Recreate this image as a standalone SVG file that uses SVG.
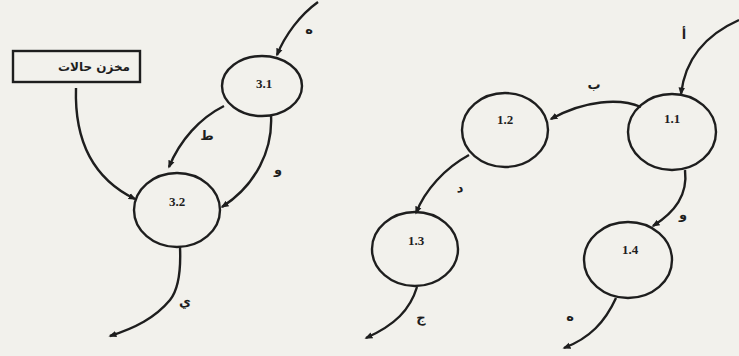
<svg xmlns="http://www.w3.org/2000/svg" width="739" height="356" viewBox="0 0 739 356">
<defs>
<marker id="ah" viewBox="0 0 10 10" refX="8" refY="5" markerWidth="8" markerHeight="8" markerUnits="userSpaceOnUse" orient="auto">
<path d="M0,1 L10,5 L0,9 Z" fill="#1e1e1e"/>
</marker>
<style>
.bg{fill:#f2f1ec}
.n{fill:none;stroke:#1e1e1e;stroke-width:2.4}
.c{fill:none;stroke:#1e1e1e;stroke-width:2.4;marker-end:url(#ah)}
.num{font-family:"Liberation Serif",serif;font-weight:bold;font-size:13px;fill:#1e1e1e;text-anchor:middle}
.lab{font-family:"DejaVu Sans",sans-serif;font-weight:bold;font-size:13px;fill:#1e1e1e;text-anchor:middle}
.box{font-family:"DejaVu Sans",sans-serif;font-weight:bold;font-size:12px;fill:#1e1e1e;text-anchor:middle}
</style>
</defs>
<rect class="bg" x="0" y="0" width="739" height="356"/>

<g id="store">
<rect class="n" x="13" y="51" width="127" height="31" stroke-width="3"/>
<text class="box" x="94" y="71">مخزن حالات</text>
</g>
<g id="p31">
<ellipse class="n" cx="262" cy="86" rx="40" ry="30"/>
<text class="num" x="264" y="88">3.1</text>
</g>
<g id="p32">
<ellipse class="n" cx="177" cy="210" rx="43" ry="37"/>
<text class="num" x="177" y="206">3.2</text>
</g>
<g id="p11">
<ellipse class="n" cx="672" cy="132" rx="44" ry="38"/>
<text class="num" x="672" y="123">1.1</text>
</g>
<g id="p12">
<ellipse class="n" cx="505" cy="130" rx="43" ry="37"/>
<text class="num" x="505" y="124">1.2</text>
</g>
<g id="p13">
<ellipse class="n" cx="415" cy="249" rx="43" ry="37"/>
<text class="num" x="416" y="245">1.3</text>
</g>
<g id="p14">
<ellipse class="n" cx="628" cy="260" rx="44" ry="38"/>
<text class="num" x="630" y="254">1.4</text>
</g>

<g id="connectors">
<path class="c" d="M318 2 C300 15,285 35,277 55"/>
<path class="c" d="M224 106 C200 118,180 140,169 167"/>
<path class="c" d="M271 115 C273 150,256 185,222 207"/>
<path class="c" d="M76 88 C74 150,100 182,135 199"/>
<path class="c" d="M180 247 C181 270,178 290,170 300 C155 318,135 328,110 336"/>
<path class="c" d="M739 20 C705 35,685 60,681 94"/>
<path class="c" d="M641 107 C620 98,585 100,551 119"/>
<path class="c" d="M469 155 C445 168,425 190,416 213"/>
<path class="c" d="M417 287 C410 310,395 325,366 338"/>
<path class="c" d="M685 170 C688 195,675 212,653 226"/>
<path class="c" d="M616 298 C605 322,590 338,564 348"/>
</g>

<g id="labels">
<text class="lab" x="309" y="34" font-size="10">ه</text>
<text class="lab" x="207" y="140">ط</text>
<text class="lab" x="278" y="174">و</text>
<text class="lab" x="185" y="306">ي</text>
<text class="lab" x="684" y="39">أ</text>
<text class="lab" x="594" y="89">ب</text>
<text class="lab" x="460" y="192">د</text>
<text class="lab" x="421" y="322">ج</text>
<text class="lab" x="683" y="219">و</text>
<text class="lab" x="570" y="321" font-size="10">ه</text>
</g>
</svg>
